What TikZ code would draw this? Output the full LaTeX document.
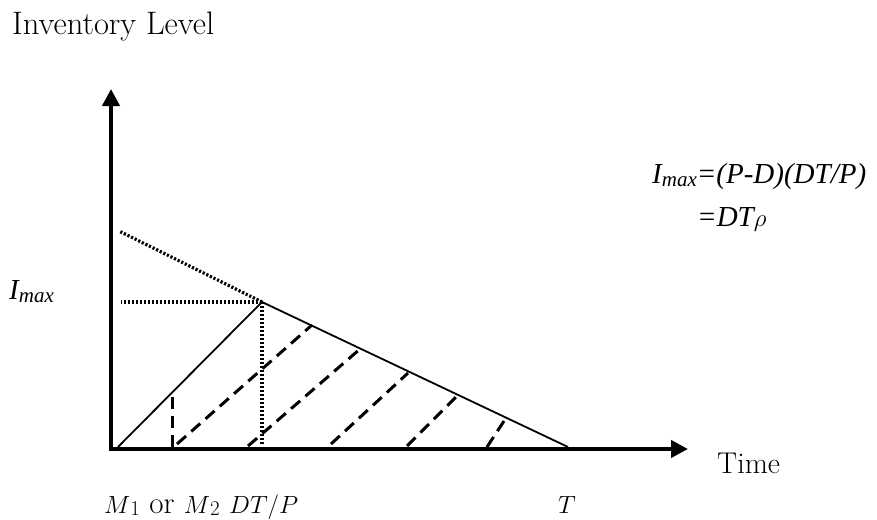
\documentclass[tikz,border=0pt]{standalone}
\usepackage{fontspec}
\newfontfamily\tnr{Liberation Serif}
\usetikzlibrary{arrows.meta}
\tikzset{
  axis/.style={line width=4pt,-{Triangle[length=17pt,width=17pt]}},
  solidln/.style={line width=1.8pt},
  dotln/.style={line width=3.2pt,dash pattern=on 2.2pt off 1.8pt},
  dashln/.style={line width=3pt,dash pattern=on 12pt off 7pt},
  lbl/.style={inner sep=0pt,anchor=base west,font=\fontsize{29}{34}\selectfont},
  tlbl/.style={inner sep=0pt,anchor=base west,font=\tnr\itshape\fontsize{29}{34}\selectfont},
}
\newcommand{\mysub}[1]{\raisebox{-3pt}{\fontsize{21}{22}\selectfont #1}}
\newcommand{\digsub}[1]{\raisebox{-2pt}{\fontsize{21}{22}\selectfont #1}}
\begin{document}
\begin{tikzpicture}[x=1pt,y=-1pt]
\useasboundingbox (0,0) rectangle (877,519);
\coordinate (O) at (111,449);
\coordinate (ytip) at (111,89);
\coordinate (xtip) at (688,449);
\coordinate (pk) at (262,302);
\coordinate (r0) at (118,447);
\coordinate (f1) at (568,447);
\coordinate (dtop) at (119,231);
\coordinate (hl) at (121,302);
\coordinate (vb) at (262,444);
% dotted
\draw[dotln] (pk) -- (dtop);
\draw[dotln] (pk) -- (hl);
\draw[dotln] (pk) -- (vb);
% solid
\draw[solidln] (r0) -- (pk) -- (f1);
% dashed
\coordinate (d0a) at (172,397); \coordinate (d0b) at (172,447);
\coordinate (d1a) at (177,444); \coordinate (d1b) at (312,325);
\coordinate (d2a) at (248,446); \coordinate (d2b) at (360,349);
\coordinate (d3a) at (331,444); \coordinate (d3b) at (408,373);
\coordinate (d4a) at (407,446); \coordinate (d4b) at (456,397);
\coordinate (d5a) at (487,447); \coordinate (d5b) at (504,421);
\draw[dashln] (d0a) -- (d0b);
\draw[dashln] (d1a) -- (d1b);
\draw[dashln] (d2a) -- (d2b);
\draw[dashln] (d3a) -- (d3b);
\draw[dashln] (d4a) -- (d4b);
\draw[dashln] (d5a) -- (d5b);
% axes
\draw[axis] ([yshift=2pt]O) -- (ytip);
\draw[axis] ([xshift=-2pt]O) -- (xtip);
% labels
\node[lbl,font=\fontsize{32.5}{38}\selectfont] (inv) at (12,35) {Inventory Level};
\node[lbl,font=\fontsize{30}{34}\selectfont] (time) at (717,473) {Time};
\node[lbl,font=\fontsize{31}{34}\selectfont] (tt) at (558,513) {$T$};
\node[lbl,font=\fontsize{31}{34}\selectfont] (m) at (104,513) {$M$\digsub{1} or $M$\digsub{2} $DT/P$};
\node[tlbl] (imax) at (9,299) {I\mysub{max}};
\node[tlbl] (f1n) at (652,183) {I\mysub{max}=(P-D)(DT/P)};
\node[tlbl] (f2n) at (697,226) {=DT$\rho$};
\end{tikzpicture}
\end{document}
